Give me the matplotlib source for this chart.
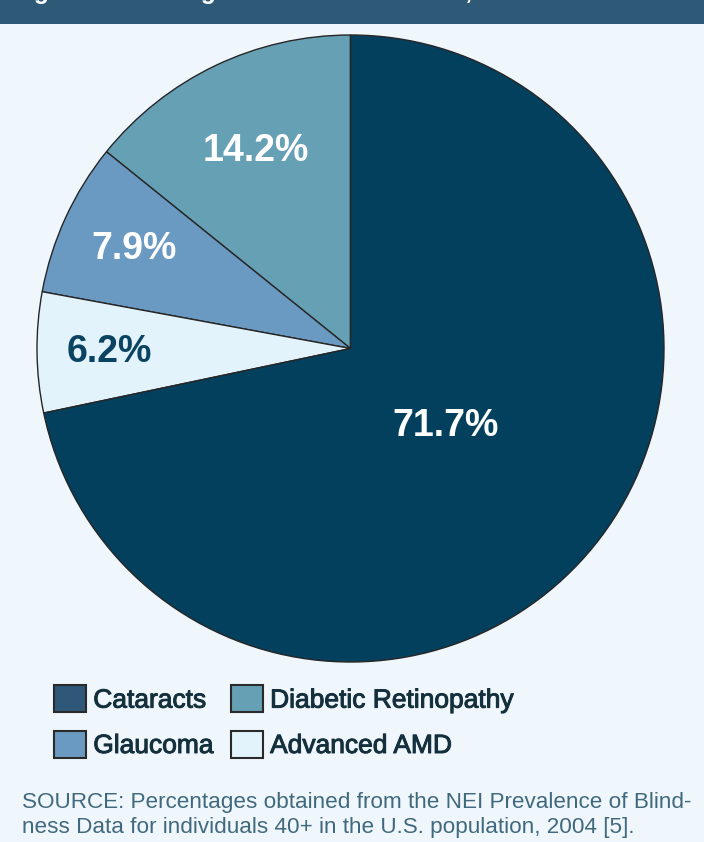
import matplotlib

matplotlib.use("Agg")
import matplotlib.pyplot as plt
import matplotlib.patheffects as pe
from matplotlib.patches import Patch, Rectangle
import numpy as np

# ---- data -----------------------------------------------------------------
# pie wedges, counter-clockwise starting at 12 o'clock
causes = ["Diabetic Retinopathy", "Glaucoma", "Advanced AMD", "Cataracts"]
shares = [14.2, 7.9, 6.2, 71.7]
pct_labels = ["14.2%", "7.9%", "6.2%", "71.7%"]

# legend order (two rows of two)
legend_order = ["Cataracts", "Glaucoma", "Diabetic Retinopathy", "Advanced AMD"]

title = "Figure 1. Leading Causes of Blindness, 2004"
source = ["SOURCE: Percentages obtained from the NEI Prevalence of Blind-",
          "ness Data for individuals 40+ in the U.S. population, 2004 [5]."]

# ---- style ----------------------------------------------------------------
BG = "#eff7fd"
HEADER = "#2e5a78"
EDGE = "#262626"
WEDGE_COLORS = {
    "Cataracts": "#03405e",
    "Diabetic Retinopathy": "#66a0b4",
    "Glaucoma": "#6a9ac2",
    "Advanced AMD": "#e2f3fc",
}
LEGEND_COLORS = dict(WEDGE_COLORS, Cataracts="#2f5878")
LABEL_COLORS = {"Advanced AMD": "#0b4462"}
LABEL_RADIUS = {"Diabetic Retinopathy": 0.70, "Glaucoma": 0.76,
                "Advanced AMD": 0.77, "Cataracts": 0.39}

plt.rcParams["font.family"] = ["Liberation Sans", "DejaVu Sans"]

W, H = 704, 842
fig = plt.figure(figsize=(W / 100, H / 100), dpi=100, facecolor=BG)

# dark header band with the (cut off) figure title, as in the source page
fig.patches.append(Rectangle((0, 1 - 24 / H), 1, 24 / H, transform=fig.transFigure,
                             facecolor=HEADER, edgecolor="none", zorder=0))
fig.text(12 / W, 1 + 1 / H, title, color="white", fontsize=17.7,
         fontweight="bold", va="baseline", ha="left")

# ---- pie ------------------------------------------------------------------
cx, cy, r = 350.5, 348.5, 313.5
ax = fig.add_axes([(cx - r) / W, (H - cy - r) / H, 2 * r / W, 2 * r / H])
ax.set_facecolor("none")
wedges, _ = ax.pie(shares, colors=[WEDGE_COLORS[c] for c in causes],
                   startangle=90, counterclock=True, radius=1,
                   wedgeprops=dict(edgecolor=EDGE, linewidth=1.0))
ax.set_xlim(-1, 1)
ax.set_ylim(-1, 1)
ax.set_aspect("equal")
ax.axis("off")

for w, cause, lab in zip(wedges, causes, pct_labels):
    mid = np.deg2rad((w.theta1 + w.theta2) / 2)
    rr = LABEL_RADIUS[cause]
    ax.text(rr * np.cos(mid), rr * np.sin(mid), lab, ha="center", va="center",
            color=LABEL_COLORS.get(cause, "white"), fontsize=27, fontweight="bold")

# ---- legend ---------------------------------------------------------------
handles = [Patch(facecolor=LEGEND_COLORS[c], edgecolor="#2a2a2a", linewidth=1.5,
                 label=c) for c in legend_order]
leg = fig.legend(handles=handles, ncol=2, loc="upper left",
                 bbox_to_anchor=(41 / W, 1 - 672 / H), frameon=False, borderpad=0,
                 fontsize=19, handlelength=1.2, handleheight=1.2,
                 handletextpad=0.28, columnspacing=0.65, labelspacing=0.68,
                 labelcolor="#15303d")
for t in leg.get_texts():
    t.set_path_effects([pe.withStroke(linewidth=0.7, foreground="#15303d")])

# ---- source note ----------------------------------------------------------
for i, line in enumerate(source):
    fig.text(22 / W, 1 - (808 + 25 * i) / H, line, color="#41697d",
             fontsize=16.2, va="baseline", ha="left")

fig.savefig("out.png", dpi=100, facecolor=BG)
